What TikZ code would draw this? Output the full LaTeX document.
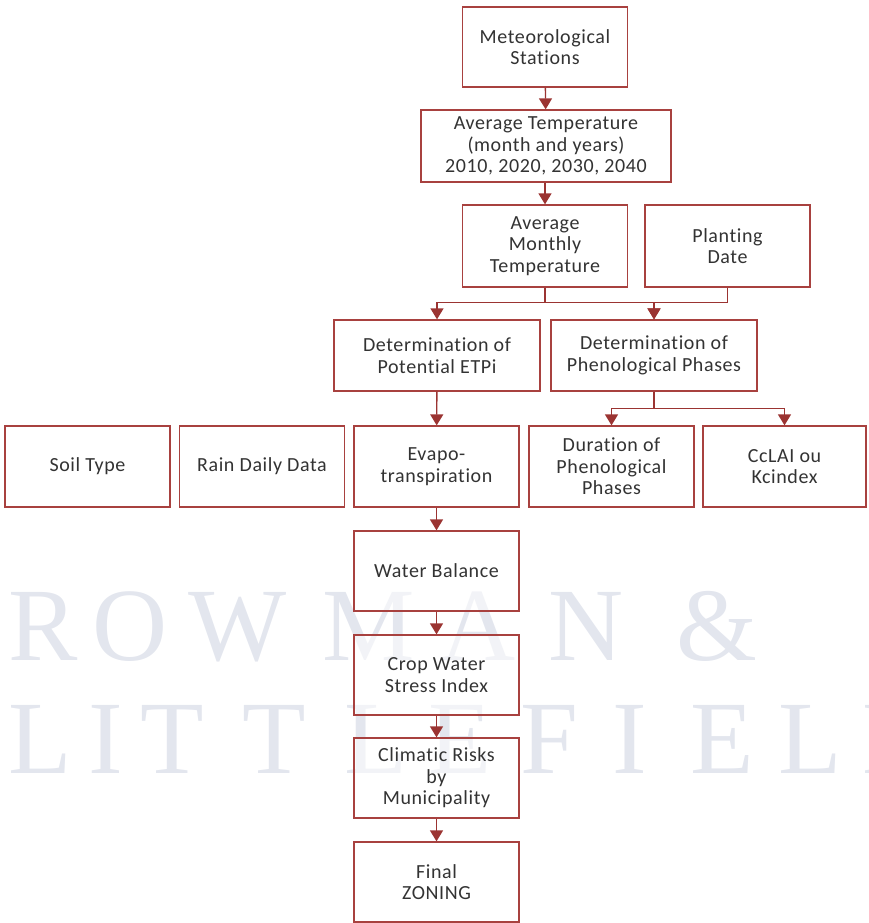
\documentclass[tikz,border=0pt]{standalone}
\usepackage{fontspec}
\setmainfont[Ligatures=NoCommon, LetterSpace=3.0]{Carlito}
\newfontfamily\wmfont{Liberation Serif}
\usetikzlibrary{arrows.meta}
\definecolor{boxred}{HTML}{A8413F}
\definecolor{linered}{HTML}{9B3432}
\definecolor{txtgray}{HTML}{333333}
\definecolor{wmblue}{HTML}{E3E6EE}
\tikzset{
  box/.style={rectangle, draw=boxred, line width=1.3pt, fill=white, fill opacity=0.55, text opacity=1,
              align=center, minimum width=165pt, minimum height=80pt, inner sep=2pt, text=txtgray,
              font=\fontsize{20}{21.5}\selectfont},
  widebox/.style={box, minimum width=250pt, minimum height=72pt},
  midbox/.style={box, minimum width=206pt, minimum height=71pt},
  fl/.style={-{Triangle[length=11pt, width=13pt]}, draw=linered, line width=1.4pt},
  wm/.style={text=wmblue, font=\wmfont\fontsize{104}{104}\selectfont, inner sep=0, anchor=base west},
}
\begin{document}
\begin{tikzpicture}[x=1pt, y=-1pt]
\useasboundingbox (0,0) rectangle (868,923);

% watermark
\foreach \ch/\xx in {R/8, O/92, W/188, M/322, A/440, N/548, \&/676}
  \node[wm] at (\xx,660) {\ch};
\foreach \ch/\xx in {L/8, I/88, T/140, T/242, L/344, E/428, F/520, I/612, E/690, L/778, D/862}
  \node[wm] at (\xx,773) {\ch};

\node[box] (stations) at (545,47) {Meteorological\\Stations};
\node[widebox] (avgtemp) at (546,146) {Average Temperature\\(month and years)\\2010, 2020, 2030, 2040};
\node[box, minimum height=82pt] (avgmonth) at (545,246) {Average\\Monthly\\Temperature};
\node[box, minimum height=82pt] (planting) at (727.5,246) {Planting\\Date};

\node[midbox] (etp) at (437,355.5) {Determination of\\Potential ETPi};
\node[midbox] (pheno) at (654,355.5) {Determination of\\Phenological Phases};

\node[box, minimum height=81pt] (soil) at (87.5,466.5) {Soil Type};
\node[box, minimum height=81pt] (rain) at (262,466.5) {Rain Daily Data};
\node[box, minimum height=81pt] (evapo) at (436.5,466.5) {Evapo-\\transpiration};
\node[box, minimum height=81pt] (duration) at (611.5,466.5) {Duration of\\Phenological\\Phases};
\node[box, minimum height=81pt, minimum width=163pt] (kcindex) at (784.5,466.5) {CcLAI ou\\Kcindex};

\node[box] (balance) at (436.5,571) {Water Balance};
\node[box] (stress) at (436.5,675) {Crop Water\\Stress Index};
\node[box] (risks) at (436.5,778) {Climatic Risks\\by\\Municipality};
\node[box] (zoning) at (436.5,882) {Final\\ZONING};

\draw[fl] (stations) -- (avgtemp);
\draw[fl] (avgtemp.south -| stations) -- (avgmonth);
\draw[fl] (avgmonth.south) -- ++(0,15) -| (etp.north);
\draw[fl] (avgmonth.south) -- ++(0,15) -| (pheno.north);
\draw[fl] (planting.south) -- ++(0,15) -| (pheno.north);
\draw[fl] (etp) -- (evapo);
\draw[fl] (pheno.south) -- ++(0,17) -| (duration.north);
\draw[fl] (pheno.south) -- ++(0,17) -| (kcindex.north);
\draw[fl] (evapo) -- (balance);
\draw[fl] (balance) -- (stress);
\draw[fl] (stress) -- (risks);
\draw[fl] (risks) -- (zoning);
\end{tikzpicture}
\end{document}
